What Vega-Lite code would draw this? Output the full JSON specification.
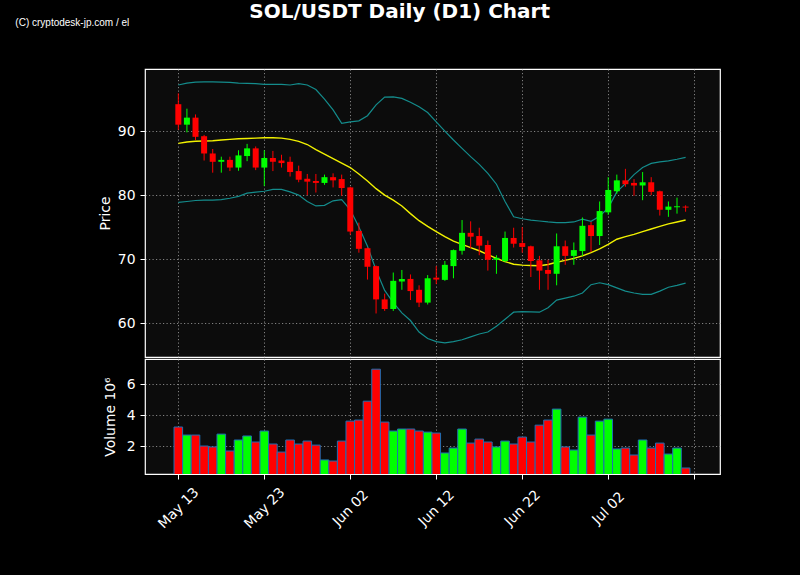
{
  "$schema": "https://vega.github.io/schema/vega-lite/v6.json",
  "description": "SOL/USDT daily candles with Bollinger bands and volume",
  "background": "#000000",
  "padding": {"left": 14, "top": 2, "right": 80, "bottom": 47},
  "title": {
    "text": "SOL/USDT Daily (D1) Chart",
    "font": "DejaVu Sans",
    "fontSize": 20,
    "fontWeight": "bold",
    "color": "#ffffff",
    "anchor": "middle",
    "dx": 32,
    "offset": -5
  },
  "config": {
    "font": "DejaVu Sans",
    "view": {"fill": "#0c0c0c", "stroke": "#ffffff", "strokeWidth": 1.2},
    "axis": {
      "labelColor": "#ffffff",
      "labelFont": "DejaVu Sans",
      "labelFontSize": 13.9,
      "titleColor": "#ffffff",
      "titleFont": "DejaVu Sans",
      "titleFontSize": 13.9,
      "titleFontWeight": "normal",
      "tickColor": "#ffffff",
      "tickSize": 5,
      "tickWidth": 1,
      "labelPadding": 5,
      "titlePadding": 5,
      "domain": false,
      "gridColor": "#b0b0b0",
      "gridDash": [1.2, 2.3],
      "gridWidth": 0.9,
      "gridOpacity": 0.8
    }
  },
  "datasets": {
    "ohlc": [
      {"date": "2024-05-13", "open": 94.2, "high": 95.9, "low": 90.2, "close": 91.0, "volume": 3230000, "upper": 97.2, "ma": 88.08, "lower": 78.86},
      {"date": "2024-05-14", "open": 91.0, "high": 93.5, "low": 89.8, "close": 92.1, "volume": 2710000, "upper": 97.5, "ma": 88.3, "lower": 79.0},
      {"date": "2024-05-15", "open": 92.1, "high": 92.6, "low": 88.6, "close": 89.1, "volume": 2710000, "upper": 97.65, "ma": 88.4, "lower": 79.15},
      {"date": "2024-05-16", "open": 89.2, "high": 89.4, "low": 85.4, "close": 86.5, "volume": 2000000, "upper": 97.7, "ma": 88.45, "lower": 79.2},
      {"date": "2024-05-17", "open": 86.5, "high": 87.2, "low": 83.5, "close": 85.2, "volume": 1940000, "upper": 97.7, "ma": 88.5, "lower": 79.2},
      {"date": "2024-05-18", "open": 85.2, "high": 86.0, "low": 83.5, "close": 85.5, "volume": 2770000, "upper": 97.65, "ma": 88.6, "lower": 79.3},
      {"date": "2024-05-19", "open": 85.5, "high": 86.0, "low": 83.75, "close": 84.3, "volume": 1680000, "upper": 97.6, "ma": 88.7, "lower": 79.5},
      {"date": "2024-05-20", "open": 84.3, "high": 87.0, "low": 83.8, "close": 86.2, "volume": 2390000, "upper": 97.5, "ma": 88.8, "lower": 79.8},
      {"date": "2024-05-21", "open": 86.1, "high": 88.0, "low": 85.3, "close": 87.3, "volume": 2650000, "upper": 97.45, "ma": 88.85, "lower": 80.3},
      {"date": "2024-05-22", "open": 87.3, "high": 87.6, "low": 83.9, "close": 84.3, "volume": 2260000, "upper": 97.4, "ma": 88.9, "lower": 80.45},
      {"date": "2024-05-23", "open": 84.3, "high": 87.0, "low": 81.4, "close": 85.8, "volume": 2970000, "upper": 97.3, "ma": 88.95, "lower": 80.6},
      {"date": "2024-05-24", "open": 85.8, "high": 86.9, "low": 83.75, "close": 85.2, "volume": 2130000, "upper": 97.3, "ma": 88.95, "lower": 80.9},
      {"date": "2024-05-25", "open": 85.4, "high": 86.3, "low": 84.3, "close": 85.0, "volume": 1610000, "upper": 97.3, "ma": 88.9, "lower": 80.9},
      {"date": "2024-05-26", "open": 85.2, "high": 86.0, "low": 82.9, "close": 83.6, "volume": 2390000, "upper": 97.2, "ma": 88.7, "lower": 80.5},
      {"date": "2024-05-27", "open": 83.75, "high": 84.6, "low": 82.0, "close": 82.4, "volume": 2130000, "upper": 97.4, "ma": 88.4, "lower": 80.0},
      {"date": "2024-05-28", "open": 82.55, "high": 83.3, "low": 80.0, "close": 82.1, "volume": 2320000, "upper": 97.2, "ma": 87.9, "lower": 79.0},
      {"date": "2024-05-29", "open": 82.2, "high": 83.3, "low": 80.4, "close": 81.9, "volume": 2060000, "upper": 96.5, "ma": 87.1, "lower": 78.3},
      {"date": "2024-05-30", "open": 81.9, "high": 83.2, "low": 81.6, "close": 82.8, "volume": 1100000, "upper": 95.0, "ma": 86.4, "lower": 78.4},
      {"date": "2024-05-31", "open": 82.8, "high": 83.4, "low": 81.2, "close": 82.3, "volume": 1030000, "upper": 93.3, "ma": 85.7, "lower": 79.1},
      {"date": "2024-06-01", "open": 82.5, "high": 83.2, "low": 79.9, "close": 81.1, "volume": 2320000, "upper": 91.2, "ma": 85.0, "lower": 79.3},
      {"date": "2024-06-02", "open": 81.2, "high": 81.3, "low": 73.8, "close": 74.3, "volume": 3610000, "upper": 91.45, "ma": 84.3, "lower": 77.7},
      {"date": "2024-06-03", "open": 74.4, "high": 75.7, "low": 71.0, "close": 71.6, "volume": 3680000, "upper": 91.6, "ma": 83.3, "lower": 75.0},
      {"date": "2024-06-04", "open": 71.7, "high": 71.8, "low": 66.8, "close": 68.8, "volume": 4900000, "upper": 92.4, "ma": 82.2, "lower": 72.0},
      {"date": "2024-06-05", "open": 68.9, "high": 69.0, "low": 61.5, "close": 63.7, "volume": 6970000, "upper": 94.1, "ma": 81.0, "lower": 68.3},
      {"date": "2024-06-06", "open": 63.7, "high": 64.6, "low": 61.9, "close": 62.2, "volume": 3550000, "upper": 95.3, "ma": 80.0, "lower": 65.1},
      {"date": "2024-06-07", "open": 62.2, "high": 67.9, "low": 61.9, "close": 66.6, "volume": 2970000, "upper": 95.35, "ma": 79.2, "lower": 63.2},
      {"date": "2024-06-08", "open": 66.5, "high": 68.3, "low": 65.2, "close": 66.9, "volume": 3100000, "upper": 95.1, "ma": 78.3, "lower": 61.6},
      {"date": "2024-06-09", "open": 66.9, "high": 67.6, "low": 63.6, "close": 65.0, "volume": 3100000, "upper": 94.5, "ma": 77.1, "lower": 60.4},
      {"date": "2024-06-10", "open": 65.2, "high": 65.9, "low": 62.5, "close": 63.2, "volume": 2970000, "upper": 93.8, "ma": 76.0, "lower": 58.6},
      {"date": "2024-06-11", "open": 63.2, "high": 67.5, "low": 62.9, "close": 67.0, "volume": 2900000, "upper": 92.9, "ma": 75.1, "lower": 57.6},
      {"date": "2024-06-12", "open": 67.1, "high": 68.9, "low": 66.1, "close": 66.8, "volume": 2840000, "upper": 91.45, "ma": 74.3, "lower": 57.1},
      {"date": "2024-06-13", "open": 66.75, "high": 69.7, "low": 66.6, "close": 69.1, "volume": 1550000, "upper": 90.0, "ma": 73.5, "lower": 56.9},
      {"date": "2024-06-14", "open": 68.9, "high": 71.5, "low": 67.0, "close": 71.4, "volume": 1870000, "upper": 88.6, "ma": 72.8, "lower": 57.1},
      {"date": "2024-06-15", "open": 71.3, "high": 76.1, "low": 70.7, "close": 74.1, "volume": 3100000, "upper": 87.3, "ma": 72.3, "lower": 57.4},
      {"date": "2024-06-16", "open": 74.1, "high": 75.9, "low": 71.7, "close": 73.5, "volume": 2190000, "upper": 86.0, "ma": 71.8, "lower": 57.85},
      {"date": "2024-06-17", "open": 73.6, "high": 74.9, "low": 70.6, "close": 72.1, "volume": 2450000, "upper": 84.8, "ma": 71.3, "lower": 58.3},
      {"date": "2024-06-18", "open": 72.2, "high": 72.9, "low": 68.2, "close": 69.9, "volume": 2260000, "upper": 83.4, "ma": 70.7, "lower": 58.6},
      {"date": "2024-06-19", "open": 69.9, "high": 70.6, "low": 67.7, "close": 70.2, "volume": 1940000, "upper": 81.7, "ma": 70.1, "lower": 59.5},
      {"date": "2024-06-20", "open": 69.7, "high": 74.3, "low": 69.5, "close": 73.3, "volume": 2320000, "upper": 79.0, "ma": 69.6, "lower": 60.6},
      {"date": "2024-06-21", "open": 73.3, "high": 74.9, "low": 71.8, "close": 72.4, "volume": 2130000, "upper": 76.6, "ma": 69.2, "lower": 61.7},
      {"date": "2024-06-22", "open": 72.5, "high": 75.0, "low": 71.0, "close": 71.9, "volume": 2580000, "upper": 76.3, "ma": 69.05, "lower": 61.8},
      {"date": "2024-06-23", "open": 72.0, "high": 72.1, "low": 67.2, "close": 69.7, "volume": 2260000, "upper": 76.1, "ma": 69.0, "lower": 61.75},
      {"date": "2024-06-24", "open": 69.8, "high": 70.5, "low": 65.2, "close": 68.2, "volume": 3350000, "upper": 75.95, "ma": 68.95, "lower": 61.7},
      {"date": "2024-06-25", "open": 68.3, "high": 69.9, "low": 65.2, "close": 67.7, "volume": 3680000, "upper": 75.8, "ma": 69.15, "lower": 62.4},
      {"date": "2024-06-26", "open": 67.7, "high": 74.0, "low": 65.9, "close": 72.0, "volume": 4390000, "upper": 75.7, "ma": 69.5, "lower": 63.6},
      {"date": "2024-06-27", "open": 72.0, "high": 72.9, "low": 69.1, "close": 70.5, "volume": 1940000, "upper": 75.7, "ma": 69.8, "lower": 63.9},
      {"date": "2024-06-28", "open": 70.5, "high": 72.6, "low": 69.1, "close": 71.4, "volume": 1740000, "upper": 75.8, "ma": 70.1, "lower": 64.2},
      {"date": "2024-06-29", "open": 71.25, "high": 76.5, "low": 70.5, "close": 75.2, "volume": 3870000, "upper": 76.25, "ma": 70.5, "lower": 64.7},
      {"date": "2024-06-30", "open": 75.3, "high": 75.8, "low": 71.1, "close": 73.6, "volume": 2710000, "upper": 75.9, "ma": 71.0, "lower": 66.0},
      {"date": "2024-07-01", "open": 73.6, "high": 79.0, "low": 72.2, "close": 77.5, "volume": 3610000, "upper": 76.7, "ma": 71.6, "lower": 66.3},
      {"date": "2024-07-02", "open": 77.3, "high": 82.8, "low": 76.9, "close": 80.8, "volume": 3740000, "upper": 78.0, "ma": 72.3, "lower": 66.0},
      {"date": "2024-07-03", "open": 80.6, "high": 83.2, "low": 80.2, "close": 82.3, "volume": 1810000, "upper": 80.5, "ma": 73.1, "lower": 65.5},
      {"date": "2024-07-04", "open": 82.3, "high": 84.1, "low": 81.3, "close": 81.7, "volume": 1870000, "upper": 81.8, "ma": 73.5, "lower": 65.0},
      {"date": "2024-07-05", "open": 81.9, "high": 82.5, "low": 79.9, "close": 81.5, "volume": 1420000, "upper": 83.2, "ma": 73.85, "lower": 64.7},
      {"date": "2024-07-06", "open": 81.5, "high": 83.6, "low": 79.2, "close": 82.0, "volume": 2390000, "upper": 84.3, "ma": 74.3, "lower": 64.5},
      {"date": "2024-07-07", "open": 82.0, "high": 82.8, "low": 80.0, "close": 80.5, "volume": 1870000, "upper": 84.95, "ma": 74.7, "lower": 64.5},
      {"date": "2024-07-08", "open": 80.6, "high": 80.7, "low": 76.8, "close": 77.7, "volume": 2190000, "upper": 85.2, "ma": 75.1, "lower": 65.0},
      {"date": "2024-07-09", "open": 77.7, "high": 79.0, "low": 76.6, "close": 78.2, "volume": 1480000, "upper": 85.35, "ma": 75.5, "lower": 65.6},
      {"date": "2024-07-10", "open": 78.1, "high": 79.6, "low": 77.1, "close": 78.25, "volume": 1870000, "upper": 85.6, "ma": 75.8, "lower": 65.9},
      {"date": "2024-07-11", "open": 78.2, "high": 78.4, "low": 77.4, "close": 78.05, "volume": 580000, "upper": 85.9, "ma": 76.1, "lower": 66.25}
    ]
  },
  "data": {"name": "ohlc"},
  "spacing": 0,
  "vconcat": [
    {
      "width": 575,
      "height": 288,
      "title": {
        "text": "(C) cryptodesk-jp.com / el",
        "font": "Liberation Sans",
        "fontSize": 10,
        "fontWeight": "normal",
        "color": "#ffffff",
        "anchor": "start",
        "dx": -83,
        "offset": 41
      },
      "encoding": {
        "x": {
          "field": "date",
          "type": "temporal",
          "scale": {
            "type": "utc",
            "nice": false,
            "padding": 0,
            "domain": [
              {"year": 2024, "month": 5, "date": 9, "hours": 3, "utc": true},
              {"year": 2024, "month": 7, "date": 15, "hours": 0, "utc": true}
            ]
          },
          "axis": {
            "title": null,
            "labels": false,
            "ticks": false,
            "domain": false,
            "grid": true,
            "minExtent": 0,
            "maxExtent": 0,
            "values": [
              {"year": 2024, "month": 5, "date": 13, "utc": true},
              {"year": 2024, "month": 5, "date": 23, "utc": true},
              {"year": 2024, "month": 6, "date": 2, "utc": true},
              {"year": 2024, "month": 6, "date": 12, "utc": true},
              {"year": 2024, "month": 6, "date": 22, "utc": true},
              {"year": 2024, "month": 7, "date": 2, "utc": true},
              {"year": 2024, "month": 7, "date": 12, "utc": true}
            ]
          }
        }
      },
      "layer": [
        {
          "mark": {"type": "line", "color": "#148c8c", "strokeWidth": 1.2},
          "encoding": {
            "y": {
              "field": "upper",
              "type": "quantitative",
              "title": "Price",
              "scale": {"domain": [54.7, 99.7], "nice": false, "zero": false},
              "axis": {"values": [60, 70, 80, 90], "grid": true}
            }
          }
        },
        {
          "mark": {"type": "line", "color": "#148c8c", "strokeWidth": 1.2},
          "encoding": {
            "y": {"field": "lower", "type": "quantitative", "title": "Price", "axis": {"values": [60, 70, 80, 90], "grid": true}}
          }
        },
        {
          "mark": {"type": "line", "color": "#f2f200", "strokeWidth": 1.4},
          "encoding": {
            "y": {"field": "ma", "type": "quantitative", "title": "Price", "axis": {"values": [60, 70, 80, 90], "grid": true}}
          }
        },
        {
          "mark": {"type": "rule", "strokeWidth": 1},
          "encoding": {
            "y": {"field": "low", "type": "quantitative", "title": "Price", "axis": {"values": [60, 70, 80, 90], "grid": true}},
            "y2": {"field": "high"},
            "stroke": {"condition": {"test": "datum.close >= datum.open", "value": "#00ff00"}, "value": "#ff0000"}
          }
        },
        {
          "mark": {"type": "bar", "size": 6},
          "encoding": {
            "y": {"field": "open", "type": "quantitative", "title": "Price", "axis": {"values": [60, 70, 80, 90], "grid": true}},
            "y2": {"field": "close"},
            "fill": {"condition": {"test": "datum.close >= datum.open", "value": "#00ff00"}, "value": "#ff0000"}
          }
        }
      ]
    },
    {
      "width": 575,
      "height": 115,
      "mark": {"type": "bar", "size": 8.6, "stroke": "#1f6fb4", "strokeWidth": 1, "clip": true},
      "encoding": {
        "x": {
          "field": "date",
          "type": "temporal",
          "scale": {
            "type": "utc",
            "nice": false,
            "padding": 0,
            "domain": [
              {"year": 2024, "month": 5, "date": 9, "hours": 3, "utc": true},
              {"year": 2024, "month": 7, "date": 15, "hours": 0, "utc": true}
            ]
          },
          "axis": {
            "title": null,
            "grid": true,
            "labelAngle": -45,
            "labelAlign": "center",
            "labelBaseline": "middle",
            "labelPadding": 29,
            "labelOverlap": false,
            "labelFlush": false,
            "labelExpr": "utcFormat(datum.value, '%b %d') == 'Jul 12' ? '' : utcFormat(datum.value, '%b %d')",
            "values": [
              {"year": 2024, "month": 5, "date": 13, "utc": true},
              {"year": 2024, "month": 5, "date": 23, "utc": true},
              {"year": 2024, "month": 6, "date": 2, "utc": true},
              {"year": 2024, "month": 6, "date": 12, "utc": true},
              {"year": 2024, "month": 6, "date": 22, "utc": true},
              {"year": 2024, "month": 7, "date": 2, "utc": true},
              {"year": 2024, "month": 7, "date": 12, "utc": true}
            ]
          }
        },
        "y": {
          "field": "volume",
          "type": "quantitative",
          "title": "Volume  10⁶",
          "scale": {"domain": [190000, 7630000], "nice": false, "zero": false},
          "axis": {
            "values": [2000000, 4000000, 6000000],
            "labelExpr": "format(datum.value / 1000000, 'd')",
            "titlePadding": 9,
            "grid": true
          }
        },
        "fill": {"condition": {"test": "datum.close >= datum.open", "value": "#00ff00"}, "value": "#ff0000"}
      }
    }
  ]
}
